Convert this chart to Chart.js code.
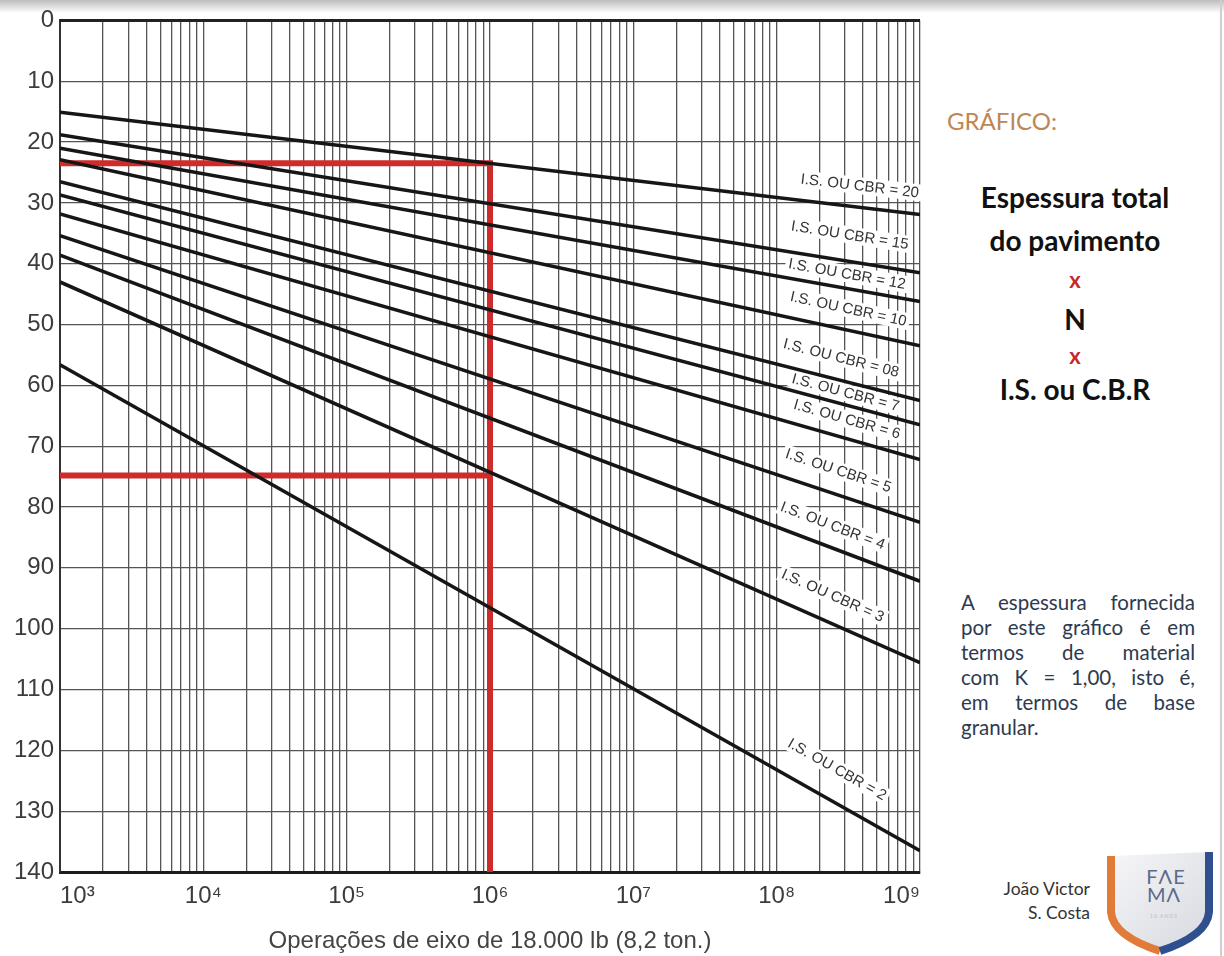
<!DOCTYPE html>
<html lang="pt">
<head>
<meta charset="utf-8">
<script src="https://cdn.jsdelivr.net/npm/chart.js@4"></script>
<style>
  html, body { margin: 0; padding: 0; background: #fff; }
  body { width: 1224px; height: 956px; position: relative; overflow: hidden; font-family: Lato, "Open Sans", sans-serif; }
  .shade { position: absolute; left: 0; top: 0; width: 1224px; height: 13px; background: linear-gradient(#bdbdbd, rgba(255,255,255,0)); }
  .edge { position: absolute; left: 1220px; top: 0; width: 2px; height: 956px; background: #cfcfcf; }
  #wrap { position: absolute; left: 0; top: 0; width: 940px; height: 956px; }
  .t { position: absolute; white-space: nowrap; }
  .gtitle { left: 947px; top: 106px; font-size: 24px; line-height: 30px; color: #bf8654; }
  .head { left: 955px; width: 240px; text-align: center; font-weight: 700; color: #111; font-size: 28px; }
  .red { color: #c8282d; font-size: 22px; }
  .para { position: absolute; left: 961px; top: 590px; width: 234px; font-size: 20.5px; line-height: 25px; color: #2d3a4f; }
  .para div { text-align: justify; text-align-last: justify; white-space: nowrap; }
  .para div:last-child { text-align-last: left; }
  .author { right: 134px; top: 877px; text-align: right; font-size: 17.5px; line-height: 24px; color: #333; }
</style>
</head>
<body>
<div class="shade"></div>
<div class="edge"></div>
<div id="wrap"><canvas id="chart" width="940" height="956"></canvas></div>

<div class="t gtitle">GRÁFICO:</div>
<div class="t head" style="top:176px;line-height:43px;">Espessura total<br>do pavimento</div>
<div class="t head red" style="top:266px;line-height:28px;">x</div>
<div class="t head" style="top:303px;line-height:32px;">N</div>
<div class="t head red" style="top:342px;line-height:28px;">x</div>
<div class="t head" style="top:371px;line-height:36px;">I.S. ou C.B.R</div>

<div class="para">
  <div>A espessura fornecida</div>
  <div>por este gráfico é em</div>
  <div>termos de material</div>
  <div>com K = 1,00, isto é,</div>
  <div>em termos de base</div>
  <div>granular.</div>
</div>

<div class="t author">João Victor<br>S. Costa</div>

<svg style="position:absolute;left:1100px;top:845px" width="120" height="111" viewBox="1100 845 120 111">
  <defs>
    <linearGradient id="sh" x1="0" y1="0" x2="1" y2="1">
      <stop offset="0" stop-color="#f6f6f8"/>
      <stop offset="1" stop-color="#d6d9e0"/>
    </linearGradient>
  </defs>
  <path d="M1111 856 L1111 912 Q1113 936 1160 951 Q1207 936 1209 912 L1209 852 Z" fill="url(#sh)"/>
  <path d="M1111 856 L1111 912 Q1113 936 1160 951" fill="none" stroke="#e07b39" stroke-width="8"/>
  <path d="M1209 852 L1209 912 Q1207 936 1160 951" fill="none" stroke="#2f4f8f" stroke-width="8"/>
  <text x="1166" y="884" text-anchor="middle" font-family="Lato, sans-serif" font-weight="400" font-size="20" letter-spacing="1" fill="#5b6b8c">FΛE</text>
  <text x="1164" y="902" text-anchor="middle" font-family="Lato, sans-serif" font-weight="400" font-size="20" letter-spacing="1" fill="#5b6b8c">MΛ</text>
  <text x="1164" y="918" text-anchor="middle" font-family="Lato, sans-serif" font-size="5" letter-spacing="1" fill="#b8bcc8">10 ANOS</text>
</svg>

<script>
// Ábaco de dimensionamento (DNER): espessura total x N x I.S./CBR

// curvas: uma reta por valor de I.S. / CBR (eixo x em escala log)
const cbrValues = ['20', '15', '12', '10', '08', '7', '6', '5', '4', '3', '2'];
const nRange = [1e3, 1e9];
const thickAtStart = [15.1, 18.8, 21.0, 22.9, 26.5, 28.7, 31.8, 35.4, 38.6, 43.0, 56.6]; // cm em N = 10^3
const thickAtEnd = [31.9, 41.5, 46.2, 53.5, 62.5, 66.5, 72.2, 82.5, 92.2, 105.6, 136.5]; // cm em N = 10^9

// exemplo em vermelho: N = 10^6
const exampleN = 1e6;
const exampleThick = [23.5, 74.8];

// eixos
const yTickValues = [0, 10, 20, 30, 40, 50, 60, 70, 80, 90, 100, 110, 120, 130, 140];
const xDecades = [3, 4, 5, 6, 7, 8, 9];
const xTickLabels = ['10³', '10⁴', '10⁵', '10⁶', '10⁷', '10⁸', '10⁹'];
const xSubSteps = [1, 2, 3, 4, 5, 6, 7, 8, 9];

const xGridValues = [];
xDecades.forEach((d, i) => {
  if (i === xDecades.length - 1) { xGridValues.push(Math.pow(10, d)); return; }
  xSubSteps.forEach(m => xGridValues.push(m * Math.pow(10, d)));
});

const curveDatasets = cbrValues.map((cbr, i) => ({
  label: 'I.S. OU CBR = ' + cbr,
  data: [{ x: nRange[0], y: thickAtStart[i] }, { x: nRange[1], y: thickAtEnd[i] }],
  borderColor: '#161616',
  borderWidth: 3.5,
  pointRadius: 0,
}));

const redColor = '#d02b2b';
const exampleDatasets = [
  {
    label: 'exemplo 1',
    data: [{ x: nRange[0], y: exampleThick[0] }, { x: exampleN, y: exampleThick[0] }, { x: exampleN, y: 140 }],
    borderColor: redColor, borderWidth: 6, pointRadius: 0,
  },
  {
    label: 'exemplo 2',
    data: [{ x: nRange[0], y: exampleThick[1] }, { x: exampleN, y: exampleThick[1] }],
    borderColor: redColor, borderWidth: 6, pointRadius: 0,
  },
];

// rótulos inclinados sobre cada curva (caixa branca antes das linhas, texto depois)
function drawCurveLabels(chart, opts, boxOnly) {
  const { ctx, scales: { x, y } } = chart;
  const x1 = x.getPixelForValue(nRange[0]);
  const x2 = x.getPixelForValue(nRange[1]);
  ctx.save();
  ctx.font = opts.font;
  ctx.textAlign = 'center';
  ctx.textBaseline = 'middle';
  cbrValues.forEach((cbr, i) => {
    const y1 = y.getPixelForValue(thickAtStart[i]);
    const y2 = y.getPixelForValue(thickAtEnd[i]);
    const [logN, lift] = opts.anchors[i];
    const px = x.getPixelForValue(Math.pow(10, logN));
    const py = y1 + (y2 - y1) * (px - x1) / (x2 - x1) - lift;
    const text = 'I.S. OU CBR = ' + cbr;
    ctx.save();
    ctx.translate(px, py);
    ctx.rotate(Math.atan2(y2 - y1, x2 - x1));
    if (boxOnly) {
      const w = ctx.measureText(text).width + 6;
      ctx.fillStyle = '#fff';
      ctx.fillRect(-w / 2, -9, w, 17);
    } else {
      ctx.fillStyle = '#333';
      ctx.fillText(text, 0, 0);
    }
    ctx.restore();
  });
  ctx.restore();
}

const curveLabels = {
  id: 'curveLabels',
  beforeDatasetsDraw(chart, args, opts) { drawCurveLabels(chart, opts, true); },
  afterDatasetsDraw(chart, args, opts) { drawCurveLabels(chart, opts, false); },
};

const topFrame = {
  id: 'topFrame',
  afterDraw(chart) {
    const { ctx, chartArea: a } = chart;
    ctx.save();
    ctx.strokeStyle = '#222';
    ctx.lineWidth = 3;
    ctx.beginPath();
    ctx.moveTo(a.left, a.top);
    ctx.lineTo(a.right, a.top);
    ctx.stroke();
    ctx.restore();
  },
};

const axisFont = { family: '"Liberation Sans", Arial, sans-serif', size: 24 };

new Chart(document.getElementById('chart'), {
  type: 'line',
  data: { datasets: [...curveDatasets, ...exampleDatasets] },
  plugins: [curveLabels, topFrame],
  options: {
    responsive: false,
    animation: false,
    devicePixelRatio: 1,
    layout: { padding: { top: 14, right: 20, left: 0, bottom: 0 } },
    scales: {
      x: {
        type: 'logarithmic',
        min: nRange[0],
        max: nRange[1],
        afterBuildTicks: (scale) => { scale.ticks = xGridValues.map(v => ({ value: v })); },
        afterFit: (scale) => { scale.height = 84; },
        ticks: {
          autoSkip: false,
          maxRotation: 0,
          align: 'inner',
          padding: 10,
          color: '#3c3c3c',
          font: axisFont,
          callback: (v) => {
            const e = Math.round(Math.log10(v));
            if (Math.abs(Math.pow(10, e) - v) > 1e-6 * v) return '';
            return xTickLabels[xDecades.indexOf(e)];
          },
        },
        grid: { color: '#555', lineWidth: 1.3, drawTicks: false },
        border: { color: '#1c1c1c', width: 3 },
        title: {
          display: true,
          text: 'Operações de eixo de 18.000 lb (8,2 ton.)',
          color: '#444',
          font: { family: '"Liberation Sans", Arial, sans-serif', size: 24 },
          padding: { top: 0, bottom: 0 },
        },
      },
      y: {
        reverse: true,
        min: 0,
        max: 140,
        afterBuildTicks: (scale) => { scale.ticks = yTickValues.map(v => ({ value: v })); },
        afterFit: (scale) => { scale.width = 60; },
        ticks: { padding: 6, color: '#3c3c3c', font: axisFont },
        grid: { color: '#555', lineWidth: 1.3, drawTicks: false },
        border: { color: '#333', width: 2 },
      },
    },
    plugins: {
      legend: { display: false },
      tooltip: { enabled: false },
      curveLabels: {
        font: '15px "Liberation Sans", Arial, sans-serif',
        // [log10(N) do centro do rótulo, afastamento em px acima da curva]
        anchors: [[8.58, 21], [8.51, 26], [8.49, 14], [8.50, 21], [8.45, 22], [8.48, 12],
                  [8.49, 19], [8.43, 24], [8.39, 22], [8.39, 28], [8.42, 34]],
      },
    },
  },
});
</script>
</body>
</html>
